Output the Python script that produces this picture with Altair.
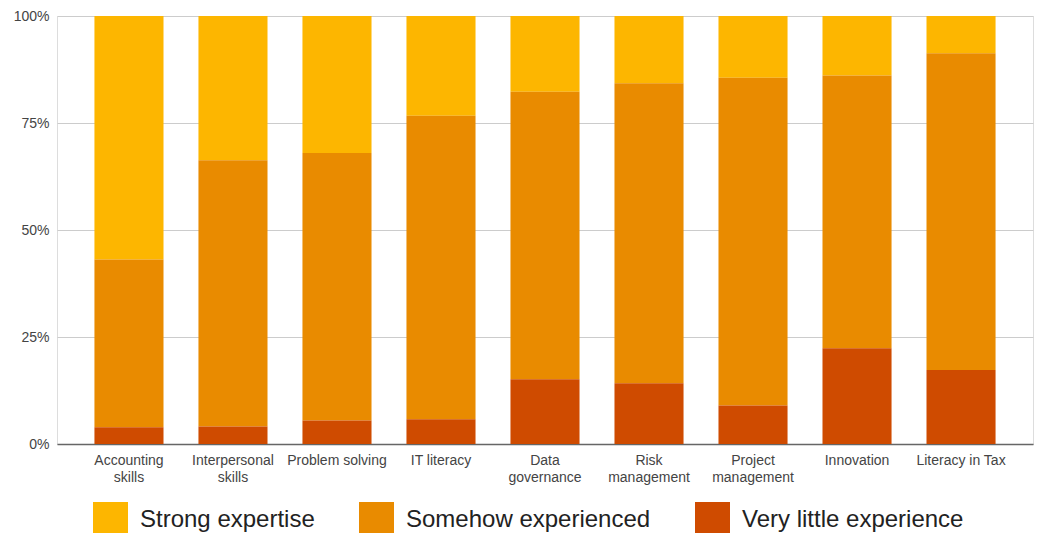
import altair as alt
import pandas as pd

# Skill areas (line breaks mark the wrapped axis labels)
skills = [
    "Accounting\nskills",
    "Interpersonal\nskills",
    "Problem solving",
    "IT literacy",
    "Data\ngovernance",
    "Risk\nmanagement",
    "Project\nmanagement",
    "Innovation",
    "Literacy in Tax",
]

# Share of respondents (%) per experience level
very_little = [3.9, 4.1, 5.5, 5.8, 15.1, 14.2, 9.0, 22.4, 17.3]
somehow = [39.2, 62.2, 62.5, 70.9, 67.2, 70.1, 76.6, 63.7, 74.0]
strong = [56.9, 33.7, 32.0, 23.3, 17.7, 15.7, 14.4, 13.9, 8.7]

levels = ["Strong expertise", "Somehow experienced", "Very little experience"]
level_colors = ["#FDB600", "#E98B00", "#CF4B00"]
# stacking position from the baseline upwards
stack_rank = {"Very little experience": 0, "Somehow experienced": 1, "Strong expertise": 2}

rows = []
for i, s in enumerate(skills):
    for lvl, vals in zip(levels, [strong, somehow, very_little]):
        rows.append({"skill": s, "level": lvl, "share": vals[i], "rank": stack_rank[lvl]})
df = pd.DataFrame(rows)

FONT = "Liberation Sans"

chart = (
    alt.Chart(df)
    .mark_bar()
    .encode(
        x=alt.X(
            "skill:N",
            sort=skills,
            title=None,
            scale=alt.Scale(paddingInner=0.336, paddingOuter=0.36),
            axis=alt.Axis(
                labelAngle=0,
                labelExpr="split(datum.label, '\\n')",
                labelFontSize=14,
                labelColor="#444444",
                labelFont=FONT,
                labelLineHeight=17,
                labelBaseline="top",
                labelPadding=9,
                ticks=False,
                domainColor="#666666",
                domainWidth=1.5,
                grid=False,
            ),
        ),
        y=alt.Y(
            "share:Q",
            stack="normalize",
            title=None,
            scale=alt.Scale(domain=[0, 1], nice=False),
            axis=alt.Axis(
                values=[0, 0.25, 0.5, 0.75, 1],
                format=".0%",
                labelFontSize=14,
                labelColor="#444444",
                labelFont=FONT,
                labelPadding=8,
                ticks=False,
                domain=False,
                gridColor="#cccccc",
                gridWidth=1,
            ),
        ),
        color=alt.Color(
            "level:N",
            sort=levels,
            scale=alt.Scale(domain=levels, range=level_colors),
            title=None,
            legend=alt.Legend(
                orient="none",
                legendX=36,
                legendY=486,
                direction="horizontal",
                symbolType="square",
                symbolSize=1225,
                symbolStrokeWidth=0,
                symbolOpacity=1,
                labelFontSize=24,
                labelFont=FONT,
                labelColor="#222222",
                labelOffset=12,
                columnPadding=44,
                labelLimit=400,
            ),
        ),
        order=alt.Order("rank:Q", sort="ascending"),
    )
    .properties(
        width=976,
        height=428,
        autosize=alt.AutoSizeParams(type="none"),
        padding={"left": 57, "top": 16, "right": 6, "bottom": 100},
    )
    .configure_view(stroke=None)
    .configure(background="white")
)

chart.save("out.html", embed_options={"renderer": "svg", "actions": False})
